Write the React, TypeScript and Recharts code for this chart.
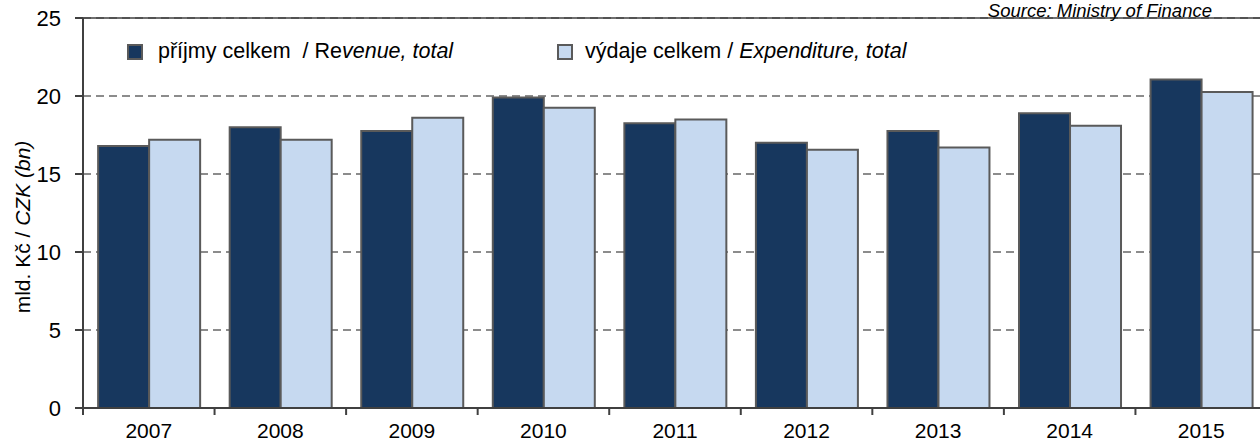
import React from 'react';
import { BarChart, Bar, XAxis, YAxis, CartesianGrid, ReferenceLine } from 'recharts';

const years = ['2007', '2008', '2009', '2010', '2011', '2012', '2013', '2014', '2015'];
const revenue = [16.8, 18.0, 17.75, 19.9, 18.25, 17.0, 17.75, 18.9, 21.05];
const expenditure = [17.2, 17.2, 18.6, 19.25, 18.5, 16.55, 16.7, 18.1, 20.25];
const yTicks = [0, 5, 10, 15, 20, 25];

const data = years.map((year, i) => ({
  year,
  revenue: revenue[i],
  expenditure: expenditure[i],
}));

const FONT = '"Liberation Sans", Arial, sans-serif';
const DARK = '#17375e';
const LIGHT = '#c6d9f0';
const EDGE = '#5a5a5a';

const CHART_W = 1267;
const CHART_H = 443;
const LEFT = 83;
const BAND = (CHART_W - LEFT) / years.length;

const XTick = (props: any) => {
  const { x, y, payload } = props;
  const bx = x - BAND / 2;
  return (
    <g>
      <line x1={bx} y1={y} x2={bx} y2={y + 7} stroke="#404040" strokeWidth={2} />
      <text x={x} y={y + 30} textAnchor="middle" fontSize={21} fill="#000" fontFamily={FONT}>
        {payload.value}
      </text>
    </g>
  );
};

const YLabel = (props: any) => {
  const vb = props.viewBox || { x: 0, y: 18, width: 83, height: 390 };
  const cx = 22;
  const cy = vb.y + vb.height / 2 + 14;
  return (
    <text
      x={cx}
      y={cy}
      transform={`rotate(-90, ${cx}, ${cy})`}
      textAnchor="middle"
      dominantBaseline="central"
      fontSize={21}
      fill="#000"
      fontFamily={FONT}
    >
      mld. Kč / <tspan fontStyle="italic">CZK (bn)</tspan>
    </text>
  );
};

const swatch = (fill: string, left: number) => (
  <div
    style={{
      position: 'absolute',
      left,
      top: 44,
      width: 12,
      height: 12,
      background: fill,
      border: `2px solid ${EDGE}`,
    }}
  />
);

export default function App() {
  return (
    <div
      style={{
        position: 'absolute',
        left: 0,
        top: 0,
        width: 1260,
        height: 443,
        overflow: 'hidden',
        background: '#fff',
        fontFamily: FONT,
      }}
    >
      <BarChart
        width={CHART_W}
        height={CHART_H}
        data={data}
        margin={{ top: 18, right: 0, bottom: 0, left: 0 }}
        barCategoryGap="11.5%"
        barGap={0}
      >
        <CartesianGrid
          vertical={false}
          stroke="#8c8c8c"
          strokeWidth={2}
          strokeDasharray="8 5"
        />
        <XAxis
          dataKey="year"
          height={35}
          tickLine={false}
          tickSize={0}
          tickMargin={0}
          axisLine={{ stroke: '#404040', strokeWidth: 2 }}
          tick={<XTick />}
          interval={0}
        />
        <YAxis
          width={LEFT}
          domain={[0, 25]}
          ticks={yTicks}
          interval={0}
          tickSize={8}
          tickMargin={14}
          tickLine={{ stroke: '#404040', strokeWidth: 2 }}
          axisLine={{ stroke: '#404040', strokeWidth: 2 }}
          tick={{ fontSize: 22, fill: '#000', fontFamily: FONT }}
          label={<YLabel />}
        />
        <ReferenceLine y={25} stroke="#404040" strokeWidth={1.5} />
        <Bar
          dataKey="revenue"
          fill={DARK}
          stroke={EDGE}
          strokeWidth={2}
          isAnimationActive={false}
        />
        <Bar
          dataKey="expenditure"
          fill={LIGHT}
          stroke={EDGE}
          strokeWidth={2}
          isAnimationActive={false}
        />
      </BarChart>

      {swatch(DARK, 127)}
      <div style={{ position: 'absolute', left: 158, top: 40, fontSize: 21.5, lineHeight: '22px', whiteSpace: 'nowrap', color: '#000' }}>
        příjmy celkem&nbsp; / Re<i>venue, total</i>
      </div>
      {swatch(LIGHT, 557)}
      <div style={{ position: 'absolute', left: 585, top: 40, fontSize: 21.5, lineHeight: '22px', whiteSpace: 'nowrap', color: '#000' }}>
        výdaje celkem / <i>Expenditure, total</i>
      </div>
      <div style={{ position: 'absolute', right: 48, top: 0, fontSize: 18.5, lineHeight: '22px', whiteSpace: 'nowrap', color: '#000' }}>
        <i>Source: Ministry of Finance</i>
      </div>
    </div>
  );
}
